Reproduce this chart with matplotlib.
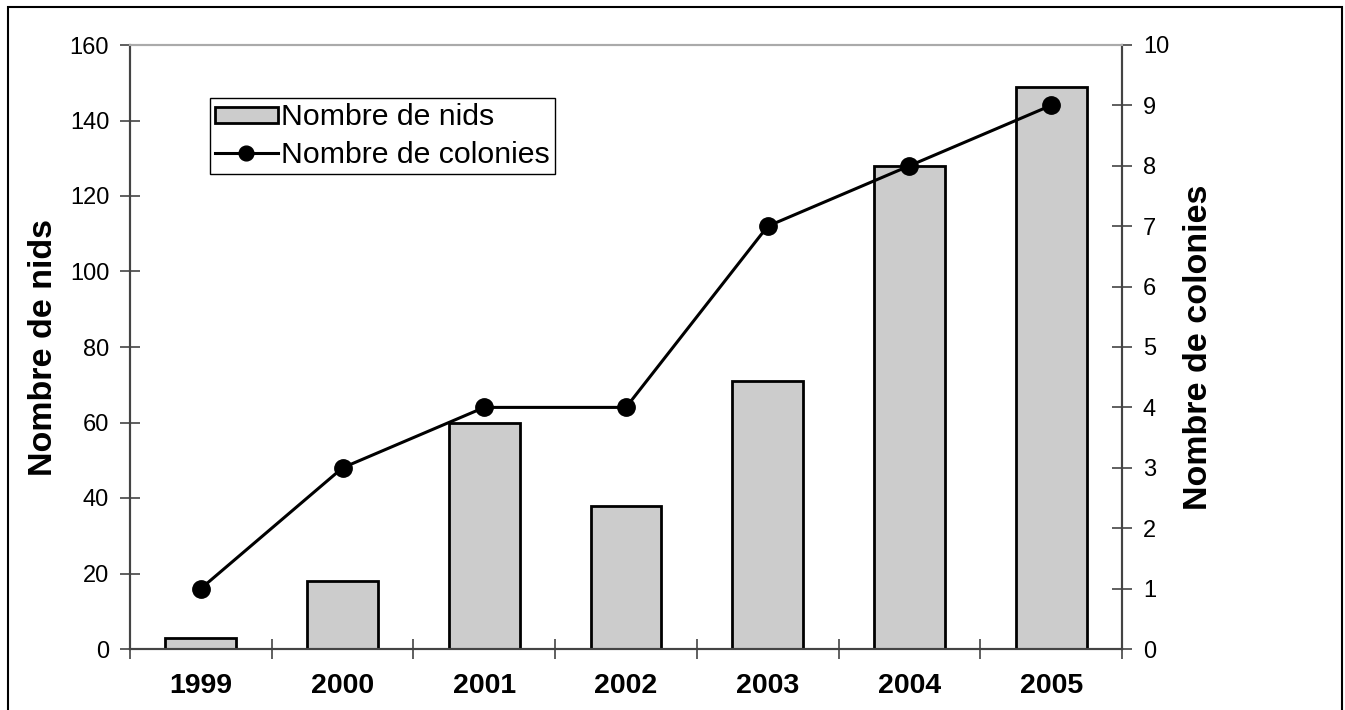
import numpy as np
import matplotlib
matplotlib.use("Agg")
import matplotlib.pyplot as plt
from matplotlib.patches import Rectangle

plt.rcParams["font.family"] = ["Liberation Sans", "DejaVu Sans"]

years = ["1999", "2000", "2001", "2002", "2003", "2004", "2005"]
nids = [3, 18, 60, 38, 71, 128, 149]
colonies = [1, 3, 4, 4, 7, 8, 9]

fig = plt.figure(figsize=(13.45, 7.10), dpi=100)
ax = fig.add_axes([130 / 1345, 1 - 649 / 710, 992 / 1345, 604 / 710])
ax2 = ax.twinx()

x = np.arange(len(years))
bars = ax.bar(x, nids, width=0.5, color="#cccccc", edgecolor="black",
              linewidth=2, zorder=2, label="Nombre de nids")
line, = ax2.plot(x, colonies, color="black", lw=2.2, marker="o", ms=12.5,
                 zorder=3, label="Nombre de colonies")

ax.set_xlim(-0.5, len(years) - 0.5)
ax.set_ylim(0, 160)
ax.set_yticks(np.arange(0, 161, 20))
ax2.set_ylim(0, 10)
ax2.set_yticks(np.arange(0, 11, 1))

ax.set_xticks(x)
ax.set_xticklabels(years, fontsize=20.5, fontweight="bold")
ax.set_xticks(np.arange(-0.5, len(years)), minor=True)
ax.tick_params(axis="x", which="major", length=0, pad=17)
ax.tick_params(axis="x", which="minor", direction="inout", length=14,
               width=1.2, color="#444444")
ax.tick_params(axis="y", direction="inout", length=14, width=1.2,
               color="#444444", labelsize=17, pad=8)
ax2.tick_params(axis="y", direction="inout", length=14, width=1.2,
                color="#444444", labelsize=17, pad=8)

for a in (ax, ax2):
    for side in ("left", "right", "bottom"):
        a.spines[side].set_color("#444444")
        a.spines[side].set_linewidth(1.5)
    a.spines["top"].set_color("#aaaaaa")
    a.spines["top"].set_linewidth(1.5)

ax.set_ylabel("Nombre de nids", fontsize=24.5, fontweight="bold", labelpad=8)
ax2.set_ylabel("Nombre de colonies", fontsize=24.5, fontweight="bold", labelpad=10)

leg = ax.legend([bars, line], ["Nombre de nids", "Nombre de colonies"],
                loc="upper left", bbox_to_anchor=(80 / 992, 1 - 53 / 604),
                fontsize=21.8, frameon=True, fancybox=False, edgecolor="black",
                framealpha=1, borderpad=0.18, handlelength=2.05, handleheight=0.45,
                handletextpad=0.1, labelspacing=0.3, borderaxespad=0,
                markerscale=0.85)
leg.get_frame().set_linewidth(1.0)

fig.patches.append(Rectangle((8 / 1345, -0.01), 1334 / 1345, 1 - 7 / 710 + 0.01,
                             transform=fig.transFigure, fill=False,
                             edgecolor="black", lw=1.5))

fig.savefig("out.png", dpi=100, facecolor="white")
